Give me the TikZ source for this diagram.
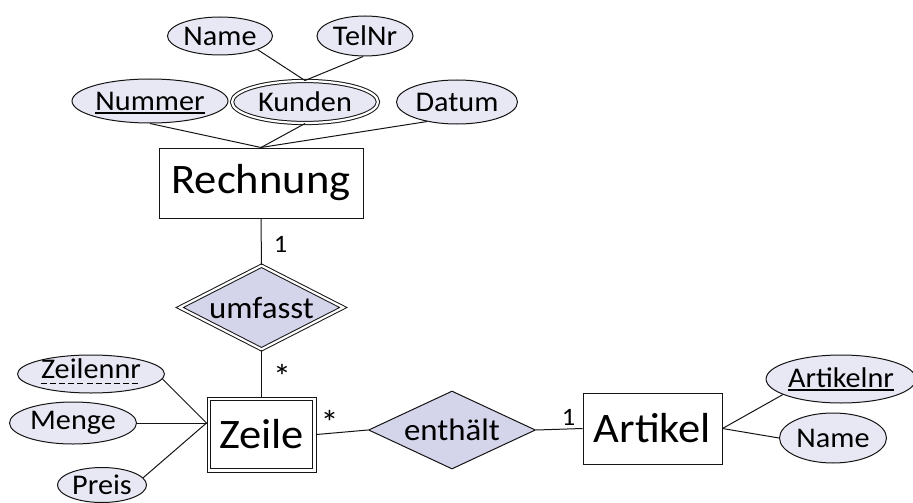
\documentclass[tikz,border=0pt]{standalone}
\usepackage{fontspec}
\setmainfont{Carlito}[FakeStretch=1.06]
\usetikzlibrary{shapes.geometric}

% solid and dashed key underlines (kept out of the text box depth)
\newcommand\keyul[1]{\setbox0\hbox{#1}\rlap{\copy0}\smash{\rule[-3.5pt]{\wd0}{1.2pt}}}
\newcommand\partkeyul[1]{\setbox0\hbox{#1}\rlap{\copy0}%
  \smash{\hbox to \wd0{\xleaders\hbox{\rule[-6pt]{6pt}{1.3pt}\hspace{3pt}}\hfill}}}

\definecolor{attrfill}{RGB}{232,232,245}
\definecolor{relfill}{RGB}{212,212,235}
\definecolor{edge}{RGB}{20,20,20}

\tikzset{
  attr/.style={ellipse, draw=edge, fill=attrfill, inner sep=0pt, line width=1pt,
    font=\fontsize{28.5}{31}\selectfont},
  entity/.style={rectangle, draw=edge, fill=white, inner sep=0pt, line width=1pt,
    font=\fontsize{42}{46}\selectfont},
  rel/.style={diamond, draw=edge, fill=relfill, aspect=2, inner sep=0pt, line width=1pt,
    font=\fontsize{31}{34}\selectfont},
  twofold/.style={double=white, double distance=2.2pt},
  card/.style={inner sep=0pt, font=\fontsize{25}{27}\selectfont},
  many/.style={inner sep=0pt, font=\fontsize{34}{36}\selectfont},
  link/.style={draw=edge, line width=1pt}
}

\begin{document}
\begin{tikzpicture}[x=1pt, y=-1pt]
\useasboundingbox (0,0) rectangle (913,503);

% Rechnung and its attributes
\node[attr, minimum width=105pt, minimum height=38pt] (nameK) at (220,36) {Name};
\node[attr, minimum width=96pt, minimum height=40pt] (telnr) at (365,36) {TelNr};
\node[attr, minimum width=156pt, minimum height=44pt] (nummer) at (150,101) {\keyul{Nummer}};
\node[attr, twofold, minimum width=146pt, minimum height=42pt] (kunden) at (305,102) {Kunden};
\node[attr, minimum width=121pt, minimum height=44pt] (datum) at (457,102) {Datum};
\node[entity, minimum width=204pt, minimum height=70pt] (rechnung) at (261,183) {Rechnung};

% relationship umfasst
\node[rel, twofold, minimum width=164pt, minimum height=84pt] (umfasst) at (261.5,307.5) {umfasst};

% Zeile (weak entity, double frame) and its attributes
\node[attr, minimum width=147pt, minimum height=38pt, text height=14pt, text depth=6pt]
  (zeilennr) at (91,374) {\partkeyul{Zeilennr}};
\node[attr, minimum width=127pt, minimum height=42pt] (menge) at (73,423) {Menge};
\node[attr, minimum width=89pt, minimum height=35pt] (preis) at (102,485) {Preis};
\node[entity, minimum width=109pt, minimum height=75pt] (zeile) at (261.5,434.5) {Zeile};
\draw[draw=edge, line width=1pt] ([shift={(4pt,-4pt)}]zeile.north west)
  rectangle ([shift={(-4pt,4pt)}]zeile.south east);

% relationship enthält and Artikel
\node[rel, minimum width=167pt, minimum height=78pt] (enthaelt) at (452,430) {enthält};
\node[entity, minimum width=139pt, minimum height=71pt] (artikel) at (652.5,428.5) {Artikel};
\node[attr, minimum width=143pt, minimum height=48pt, text height=18pt, text depth=2pt]
  (artikelnr) at (841,379) {\keyul{Artikelnr}};
\node[attr, minimum width=107pt, minimum height=50pt] (nameA) at (833,438) {Name};

% cardinalities
\node[card] (c1) at (280.5,244.5) {1};
\node[many] (c2) at (282,376) {*};
\node[many] (c3) at (329.5,422.5) {*};
\node[card] (c4) at (568.5,417.5) {1};

% attribute links
\draw[link] (nameK.-20) -- (kunden.north);
\draw[link] (telnr.265) -- (kunden.north);
\draw[link] (nummer.south) -- (rechnung.north);
\draw[link] (kunden.south) -- (rechnung.north);
\draw[link] (datum.213) -- (rechnung.north);

\coordinate (zjoin) at ([yshift=11.5pt]zeile.west);
\draw[link] (zeilennr.-4) -- (zjoin);
\draw[link] (menge.east) -- (zjoin);
\draw[link] (preis.10) -- (zjoin);

\draw[link] (artikel.east) -- (artikelnr.195);
\draw[link] (artikel.east) -- (nameA.west);

% relationship links
\draw[link] (rechnung.south) -- (umfasst.north);
\draw[link] (umfasst.south) -- (zeile.north);
\draw[link] (zeile.east) -- (enthaelt.west);
\draw[link] (enthaelt.east) -- (artikel.west);
\end{tikzpicture}
\end{document}
